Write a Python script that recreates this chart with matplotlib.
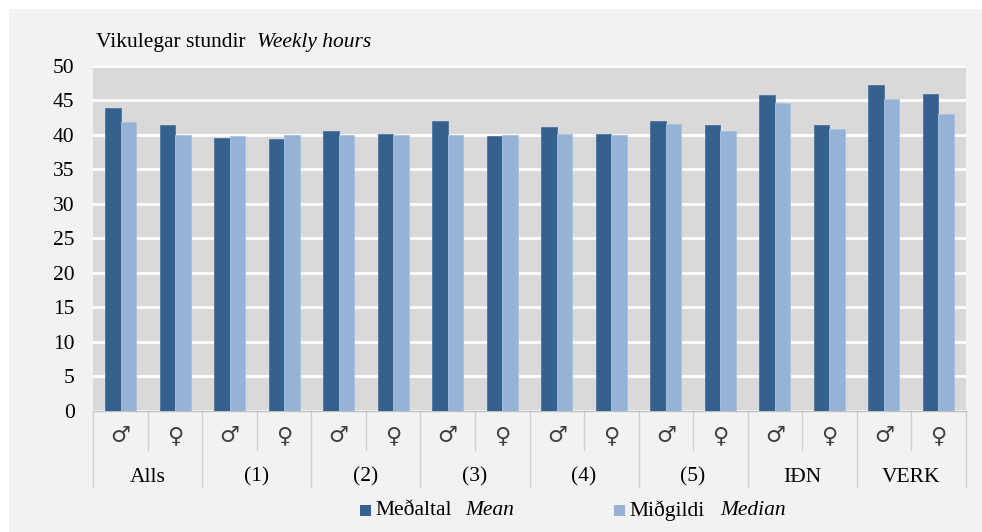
import matplotlib
matplotlib.use("Agg")
import matplotlib.pyplot as plt
from matplotlib.patches import Rectangle
import numpy as np

groups = ["Alls", "(1)", "(2)", "(3)", "(4)", "(5)", "IÐN", "VERK"]
sexes = ["♂", "♀"]
mean_vals = [43.9, 41.5, 39.6, 39.4, 40.5, 40.1, 42.0, 39.9,
             41.2, 40.1, 42.0, 41.4, 45.8, 41.5, 47.3, 46.0]
median_vals = [41.9, 40.0, 39.8, 40.0, 40.0, 40.0, 40.0, 40.0,
               40.1, 40.0, 41.6, 40.6, 44.7, 40.8, 45.2, 43.0]
yticks = [0, 5, 10, 15, 20, 25, 30, 35, 40, 45, 50]

W, H = 982, 532
fig = plt.figure(figsize=(W / 100, H / 100), dpi=100, facecolor="white")
fig.patches.append(Rectangle((9 / W, 0), 1 - 9 / W, 1 - 9 / H, transform=fig.transFigure,
                             facecolor="#f2f2f2", edgecolor="none", zorder=-10))

serif = ["Liberation Serif", "DejaVu Serif"]
FS = 15.5
left, right, top, bottom = 93.3, 965.7, 66, 410.5
ax = fig.add_axes([left / W, 1 - bottom / H, (right - left) / W, (bottom - top) / H])
ax.set_facecolor("#d9d9d9")

n = len(mean_vals)
x = np.arange(n)
bw = 0.285
dark = "#35618f"
light = "#95b3d7"
ax.bar(x - bw / 2, mean_vals, bw, color=dark, edgecolor="#4b76a5", linewidth=0.6, zorder=3)
ax.bar(x + bw / 2, median_vals, bw, color=light, edgecolor="#a9c2e0", linewidth=0.6, zorder=3)

ax.set_xlim(-0.5, n - 0.5)
ax.set_ylim(0, 50)
ax.set_yticks(yticks)
ax.set_yticklabels([str(v) for v in yticks], fontfamily=serif, fontsize=FS)
ax.tick_params(axis="y", length=0, pad=13.5)
ax.yaxis.grid(True, color="white", linewidth=2, zorder=1)
ax.set_axisbelow(True)
for s in ["left", "right", "top"]:
    ax.spines[s].set_visible(False)
ax.spines["bottom"].set_color("#bfbfbf")
ax.spines["bottom"].set_linewidth(1)

ax.set_xticks(x)
ax.set_xticklabels([sexes[i % 2] for i in range(n)], fontfamily=["DejaVu Sans"], fontsize=16,
                   color="#404040")
ax.tick_params(axis="x", length=0, pad=11)

trans = ax.get_xaxis_transform()
ax_h = bottom - top
def ypx(py):
    return -(py - bottom) / ax_h

sepc = "#cfcfcf"
for k in range(len(groups) + 1):
    xb = 2 * k - 0.5
    ax.plot([xb, xb], [0, ypx(487)], transform=trans, color=sepc, lw=1, clip_on=False)
for k in range(len(groups)):
    xb = 2 * k + 0.5
    ax.plot([xb, xb], [0, ypx(450)], transform=trans, color=sepc, lw=1, clip_on=False)
    ax.text(2 * k + 0.5, ypx(477), groups[k], transform=trans, ha="center", va="center",
            fontfamily=serif, fontsize=FS, clip_on=False)

fig.text(95.5 / W, 1 - 42 / H, "Vikulegar stundir", fontfamily=serif, fontsize=FS,
         ha="left", va="center")
fig.text(257 / W, 1 - 42 / H, "Weekly hours", fontfamily=serif, fontsize=FS,
         style="italic", ha="left", va="center")

# legend
ly = 510.5
for (sx, col, lab, it, itx) in [(360, dark, "Meðaltal", "Mean", 465),
                                (614, light, "Miðgildi", "Median", 720)]:
    fig.patches.append(Rectangle((sx / W, 1 - (ly + 5.5) / H), 11 / W, 11 / H,
                                 transform=fig.transFigure, facecolor=col, edgecolor="none"))
    fig.text((sx + 15) / W, 1 - ly / H, lab, fontfamily=serif, fontsize=FS,
             ha="left", va="center")
    fig.text(itx / W, 1 - ly / H, it, fontfamily=serif, fontsize=FS, style="italic",
             ha="left", va="center")

fig.savefig("out.png", dpi=100, facecolor=fig.get_facecolor())
